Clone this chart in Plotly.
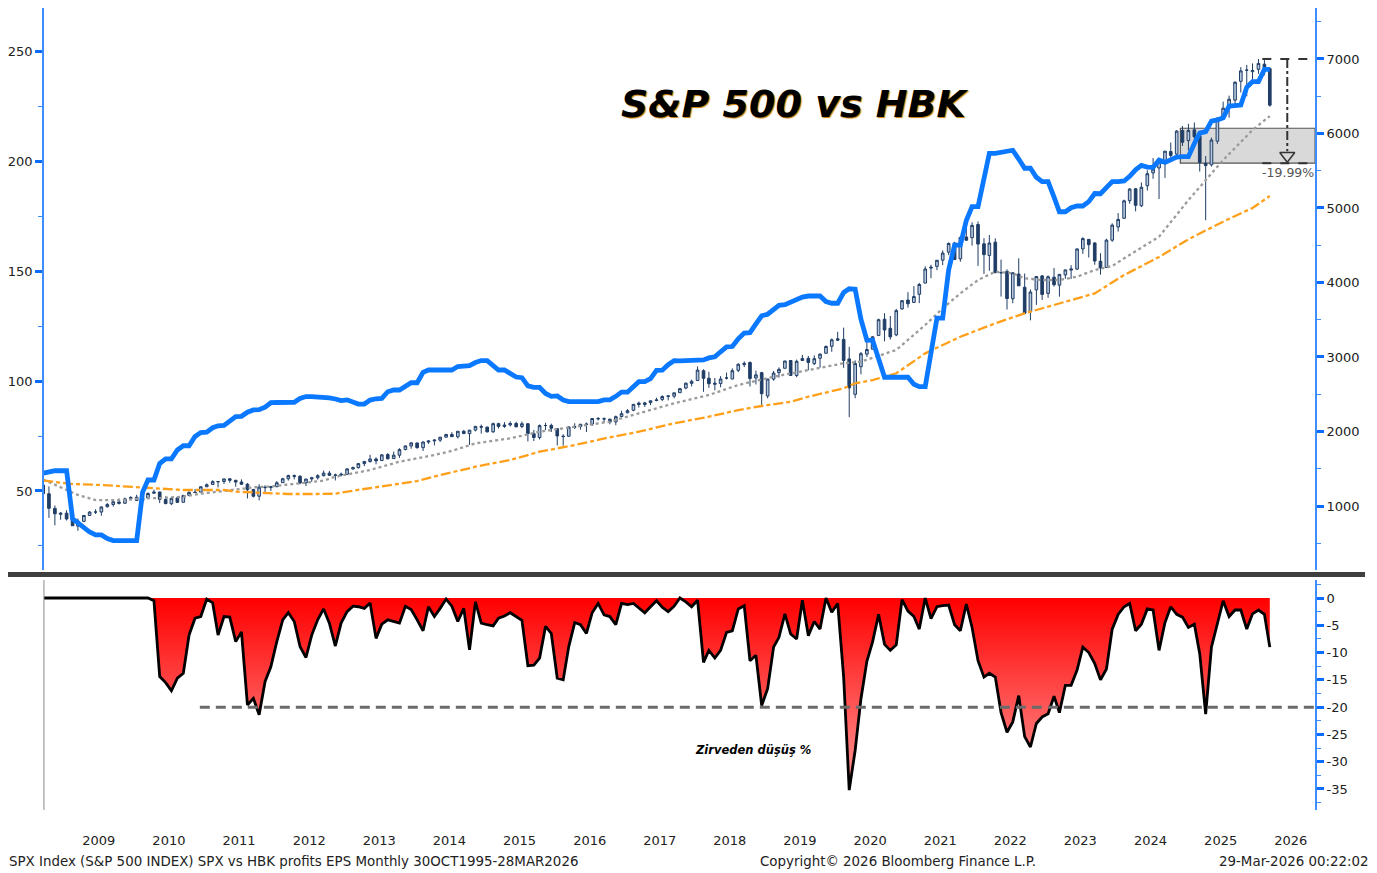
import pandas as pd
import plotly.graph_objects as go

# monthly bars, Sep 2008 .. Mar 2026
months = pd.date_range("2008-09-01", "2026-03-01", freq="MS") + pd.Timedelta(days=14)

spx_open = [
    1282, 1164, 968, 888,
    903, 823, 730, 794, 873, 919, 919, 990, 1020, 1054, 1037, 1099,
    1117, 1074, 1106, 1171, 1188, 1088, 1031, 1108, 1050, 1143, 1185, 1186,
    1258, 1289, 1329, 1329, 1365, 1346, 1322, 1292, 1220, 1131, 1252, 1247,
    1258, 1313, 1366, 1408, 1398, 1310, 1363, 1379, 1407, 1441, 1412, 1416,
    1426, 1498, 1515, 1569, 1597, 1631, 1610, 1690, 1636, 1682, 1759, 1806,
    1846, 1783, 1858, 1874, 1884, 1924, 1960, 1929, 2004, 1971, 2019, 2066,
    2059, 1996, 2105, 2068, 2088, 2108, 2067, 2104, 1970, 1919, 2081, 2082,
    2038, 1937, 1937, 2057, 2067, 2094, 2099, 2174, 2171, 2165, 2129, 2201,
    2251, 2285, 2381, 2363, 2388, 2415, 2431, 2478, 2474, 2521, 2583, 2646,
    2684, 2816, 2715, 2633, 2643, 2718, 2705, 2821, 2897, 2926, 2718, 2790,
    2476, 2703, 2790, 2848, 2953, 2751, 2953, 2981, 2910, 2983, 3050, 3143,
    3244, 3236, 2974, 2499, 2869, 3038, 3105, 3289, 3507, 3385, 3296, 3645,
    3764, 3732, 3842, 3992, 4193, 4216, 4300, 4407, 4529, 4317, 4610, 4602,
    4778, 4519, 4363, 4541, 4130, 4149, 3782, 4113, 3936, 3609, 3901, 4088,
    3853, 4071, 3964, 4102, 4166, 4180, 4451, 4578, 4530, 4285, 4202, 4568,
    4745, 4862, 5098, 5258, 5030, 5298, 5471, 5537, 5624, 5757, 5723, 6040,
    5904, 6049, 5969, 5597, 5580, 5897, 6219, 6341, 6447, 6700, 6850, 6830,
    6860, 6930, 6870,
]
spx_high = [
    1303, 1264, 1007, 918,
    944, 876, 832, 878, 930, 957, 996, 1039, 1080, 1101, 1113, 1130,
    1151, 1112, 1181, 1220, 1190, 1131, 1120, 1129, 1151, 1197, 1227, 1263,
    1302, 1345, 1333, 1364, 1371, 1346, 1357, 1308, 1230, 1292, 1278, 1269,
    1334, 1378, 1420, 1422, 1415, 1363, 1392, 1427, 1475, 1471, 1434, 1448,
    1510, 1530, 1570, 1598, 1687, 1654, 1698, 1710, 1730, 1775, 1814, 1850,
    1850, 1867, 1884, 1897, 1925, 1968, 1991, 2005, 2019, 2019, 2076, 2093,
    2064, 2119, 2117, 2126, 2135, 2130, 2133, 2113, 2021, 2094, 2117, 2105,
    2038, 1963, 2073, 2111, 2103, 2121, 2178, 2194, 2188, 2170, 2214, 2278,
    2301, 2367, 2401, 2398, 2418, 2454, 2484, 2491, 2520, 2582, 2657, 2695,
    2873, 2835, 2801, 2718, 2743, 2791, 2848, 2916, 2941, 2940, 2816, 2800,
    2708, 2813, 2860, 2950, 2955, 2965, 3028, 3014, 3022, 3050, 3155, 3248,
    3338, 3394, 3136, 2954, 3068, 3233, 3280, 3515, 3588, 3550, 3646, 3760,
    3870, 3951, 3995, 4218, 4238, 4302, 4430, 4538, 4546, 4608, 4744, 4808,
    4819, 4595, 4637, 4593, 4307, 4177, 4140, 4325, 4120, 3905, 4080, 4101,
    4095, 4195, 4111, 4170, 4232, 4458, 4607, 4584, 4541, 4393, 4587, 4794,
    4932, 5111, 5265, 5264, 5342, 5506, 5670, 5651, 5768, 5879, 6044, 6100,
    6129, 6147, 5987, 5696, 5944, 6216, 6427, 6508, 6700, 6890, 6920, 6940,
    7000, 6990, 6890,
]
spx_low = [
    1133, 840, 741, 815,
    805, 735, 667, 783, 866, 892, 869, 978, 992, 1020, 1030, 1086,
    1071, 1045, 1106, 1170, 1040, 1029, 1011, 1040, 1048, 1131, 1173, 1186,
    1257, 1289, 1249, 1295, 1312, 1259, 1282, 1101, 1114, 1075, 1159, 1202,
    1258, 1312, 1341, 1357, 1292, 1267, 1325, 1355, 1397, 1403, 1343, 1398,
    1426, 1485, 1502, 1536, 1582, 1560, 1605, 1627, 1633, 1646, 1746, 1768,
    1770, 1738, 1834, 1814, 1860, 1915, 1930, 1905, 1965, 1821, 2001, 1972,
    1988, 1981, 2040, 2048, 2068, 2056, 2044, 1867, 1872, 1893, 2020, 1993,
    1812, 1810, 1932, 2034, 2025, 1992, 2074, 2147, 2120, 2097, 2084, 2188,
    2245, 2272, 2322, 2329, 2353, 2406, 2407, 2417, 2446, 2520, 2566, 2605,
    2683, 2533, 2585, 2553, 2594, 2698, 2699, 2796, 2864, 2604, 2631, 2347,
    2444, 2682, 2722, 2848, 2750, 2729, 2952, 2822, 2892, 2856, 3050, 3070,
    3214, 2855, 2192, 2447, 2767, 2999, 3101, 3284, 3210, 3234, 3280, 3634,
    3663, 3725, 3723, 3990, 4057, 4165, 4233, 4367, 4306, 4279, 4560, 4495,
    4223, 4115, 4157, 4125, 3811, 3637, 3721, 3955, 3585, 3492, 3699, 3765,
    3794, 3944, 3809, 4049, 4048, 4167, 4385, 4335, 4238, 4104, 4197, 4546,
    4683, 4853, 5057, 4954, 5012, 5234, 5391, 5120, 5403, 5674, 5696, 5832,
    5773, 5837, 5489, 4835, 5556, 5861, 6202, 6212, 6360, 6550, 6500, 6720,
    6800, 6780, 6360,
]
spx_close = [
    1166, 969, 896, 903,
    826, 735, 798, 873, 919, 919, 987, 1021, 1057, 1036, 1096, 1115,
    1074, 1104, 1169, 1187, 1089, 1031, 1102, 1049, 1141, 1183, 1181, 1258,
    1286, 1327, 1326, 1364, 1345, 1321, 1292, 1219, 1131, 1253, 1247, 1258,
    1312, 1366, 1408, 1398, 1310, 1362, 1379, 1407, 1441, 1412, 1416, 1426,
    1498, 1515, 1569, 1598, 1631, 1606, 1686, 1633, 1682, 1757, 1806, 1848,
    1783, 1859, 1872, 1884, 1924, 1960, 1931, 2003, 1972, 2018, 2068, 2059,
    1995, 2105, 2068, 2086, 2107, 2063, 2104, 1972, 1920, 2079, 2080, 2044,
    1940, 1932, 2060, 2065, 2097, 2099, 2174, 2171, 2168, 2126, 2199, 2239,
    2279, 2364, 2363, 2384, 2412, 2423, 2470, 2472, 2519, 2575, 2648, 2674,
    2824, 2714, 2641, 2648, 2705, 2718, 2816, 2902, 2914, 2712, 2760, 2507,
    2704, 2784, 2834, 2946, 2752, 2942, 2980, 2926, 2977, 3038, 3141, 3231,
    3226, 2954, 2585, 2912, 3044, 3100, 3271, 3500, 3363, 3270, 3622, 3756,
    3714, 3811, 3973, 4181, 4204, 4298, 4395, 4523, 4308, 4605, 4567, 4766,
    4516, 4374, 4530, 4132, 4132, 3785, 4130, 3955, 3586, 3872, 4080, 3840,
    4077, 3970, 4109, 4169, 4180, 4450, 4589, 4508, 4288, 4194, 4568, 4770,
    4846, 5096, 5254, 5036, 5278, 5460, 5522, 5648, 5762, 5705, 6032, 5882,
    6041, 5955, 5612, 5569, 5912, 6205, 6339, 6460, 6688, 6840, 6849, 6845,
    6940, 6880, 6380,
]

# HBK profits EPS (left axis), one value per month
hbk_eps = [
    58.1, 58.8, 59.2, 59.2,
    59.2, 37.4, 35.5, 33.3, 31.3, 30.0, 30.0, 28.3, 27.4, 27.4, 27.4, 27.4,
    27.4, 49.5, 55.0, 55.0, 62.5, 64.6, 64.6, 68.7, 70.6, 70.6, 74.8, 76.6,
    76.8, 78.8, 79.7, 79.9, 82.1, 83.9, 84.0, 85.9, 86.9, 87.0, 88.2, 90.2,
    90.3, 90.3, 90.4, 90.4, 92.1, 93.0, 93.0, 92.9, 92.6, 92.4, 91.9, 91.2,
    91.5, 90.8, 89.6, 89.6, 91.4, 92.0, 92.2, 95.2, 96.0, 96.0, 98.0, 99.3,
    99.3, 104.0, 105.1, 105.1, 105.1, 105.1, 105.1, 106.7, 107.1, 107.1, 108.5, 109.4,
    109.4, 106.9, 105.1, 105.1, 103.2, 101.9, 101.6, 97.9, 97.2, 97.2, 94.4, 93.1,
    93.3, 91.4, 90.7, 90.7, 90.7, 90.7, 90.7, 90.7, 91.5, 91.5, 93.1, 95.0,
    95.0, 97.3, 99.8, 99.8, 101.2, 104.9, 105.0, 107.5, 109.4, 109.3, 109.3, 109.2,
    109.2, 109.7, 110.6, 111.1, 113.4, 115.6, 115.8, 119.3, 121.9, 122.1, 126.1, 129.8,
    130.5, 132.6, 134.6, 134.9, 136.1, 137.6, 138.3, 138.8, 138.8, 138.8, 136.3, 135.5,
    135.5, 140.4, 142.1, 141.9, 128.3, 118.7, 118.6, 109.9, 101.8, 101.8, 101.8, 101.8,
    101.8, 98.6, 97.5, 97.5, 114.5, 128.7, 128.7, 150.7, 162.0, 162.0, 173.2, 179.5,
    179.5, 193.1, 203.8, 203.8, 204.3, 204.9, 205.2, 201.2, 197.0, 197.0, 192.9, 190.9,
    190.9, 183.9, 177.2, 177.2, 179.0, 179.8, 179.8, 181.8, 185.5, 185.4, 188.0, 190.9,
    190.9, 191.2, 193.3, 196.3, 198.3, 197.5, 197.4, 200.7, 199.7, 200.8, 202.1, 202.3,
    202.3, 208.3, 213.0, 213.7, 218.5, 219.0, 220.0, 225.3, 225.8, 225.8, 233.9, 236.5,
    236.5, 242.0, 242.0,
]

# moving averages (month index into `months`, value)
ma_short_idx = [0, 3, 6, 9, 12, 14, 17, 20, 24, 27, 30, 33, 36, 39, 41, 44, 48, 50, 56, 61,
                67, 70, 74, 80, 85, 91, 97, 102, 108, 114, 119, 125, 131, 137, 140, 146, 151,
                154, 157, 160, 163, 166, 168, 171, 174, 177, 180, 183, 185, 191, 196, 202, 207, 210]
ma_short = [1355, 1251, 1148, 1080, 1075, 1080, 1103, 1107, 1125, 1165, 1192, 1224, 1251, 1262,
            1282, 1305, 1340, 1393, 1483, 1595, 1684, 1740, 1841, 1908, 1997, 2064, 2131, 2244,
            2378, 2490, 2624, 2735, 2825, 2915, 2937, 3094, 3429, 3653, 3854, 4033, 4145, 4123,
            4056, 4033, 4033, 4078, 4167, 4221, 4324, 4614, 5106, 5643, 6046, 6234]
ma_long_idx = [0, 5, 10, 16, 24, 31, 33, 37, 42, 47, 50, 53, 58, 64, 68, 74, 80, 85, 91, 97,
               102, 108, 114, 119, 123, 128, 131, 137, 139, 142, 146, 151, 157, 163, 168, 174,
               180, 185, 191, 196, 202, 207, 210]
ma_long = [1342, 1295, 1282, 1251, 1215, 1215, 1192, 1178, 1161, 1161, 1165, 1206, 1268, 1335,
           1415, 1527, 1617, 1729, 1818, 1922, 1997, 2110, 2198, 2288, 2342, 2400, 2467, 2579,
           2647, 2691, 2781, 3049, 3272, 3452, 3586, 3720, 3854, 4100, 4342, 4580, 4816, 5000, 5160]

# drawdown from peak, %
drawdown = [
    0, 0, 0, 0,
    0, 0, 0, 0, 0, 0, 0, 0, 0, 0, 0, 0,
    0, 0, 0, -0.5, -14.4, -15.5, -17.0, -14.7, -13.8, -6.8, -3.7, -3.4,
    -0.2, -0.9, -6.8, -3.4, -3.5, -8.0, -6.2, -19.6, -18.4, -21.4, -15.3, -12.6,
    -8.0, -4.0, -2.7, -4.3, -8.9, -10.9, -6.8, -4.0, -2.0, -4.6, -8.8, -4.6,
    -2.5, -1.5, -1.6, -1.9, -0.9, -7.4, -4.8, -4.0, -4.3, -4.6, -1.5, -2.1,
    -4.0, -6.0, -1.6, -3.4, -1.9, -0.2, -1.5, -4.3, -1.9, -9.5, -0.7, -4.6,
    -4.9, -5.1, -3.7, -3.3, -2.7, -3.4, -4.1, -12.4, -12.3, -11.0, -5.2, -6.5,
    -14.7, -15.0, -8.9, -4.5, -4.9, -6.5, -2.7, -1.0, -3.1, -3.4, -4.9, -1.0,
    -1.2, -1.0, -1.8, -2.7, -1.6, -0.5, -1.7, -2.5, -1.5, 0, -0.7, -1.6,
    -0.4, -11.8, -9.6, -11.0, -9.6, -6.3, -6.0, -2.0, -1.4, -11.5, -10.5, -19.7,
    -16.6, -9.0, -7.2, -2.9, -6.6, -7.5, -0.4, -6.9, -4.3, -5.7, 0, -2.6,
    -1.0, -14.5, -35.2, -27.9, -18.5, -11.6, -8.0, -3.0, -8.5, -9.6, -8.6, -0.3,
    -2.4, -3.4, -5.7, 0, -3.8, -1.6, -1.4, -1.3, -4.9, -6.0, -1.1, -5.4,
    -11.5, -14.5, -13.8, -14.5, -21.0, -24.6, -22.7, -17.9, -25.4, -27.3, -23.0, -21.8,
    -21.2, -18.0, -21.0, -16.0, -16.0, -13.2, -9.0, -10.0, -12.0, -15.0, -13.0, -5.7,
    -3.0, -1.6, -1.0, -6.0, -4.8, -2.0, -2.2, -9.6, -4.5, -1.6, -3.0, -3.5,
    -5.4, -4.8, -10.2, -21.3, -9.0, -4.8, -0.5, -3.4, -2.2, -2.2, -5.7, -2.9,
    -2.2, -3.0, -9.0,
]

years = list(range(2009, 2027))
dd_ticks = [0, -5, -10, -15, -20, -25, -30, -35]

W, H = 1377, 873
OFF = 8  # page margin the browser puts round the plot
NAVY = "#1f3d66"
AXIS = "#3d8dff"
TICK = "#0a6cff"
tf = dict(family="DejaVu Sans", size=13, color="#222222")
foot = dict(family="DejaVu Sans", size=13.4, color="#222222")
xr = ["2008-09-19", "2026-11-06"]


def px(p):
    return (p - OFF) / W


def py(p):
    return min(1.0, 1 - (p - OFF) / H)


xdom = [px(42), px(1315)]

fig = go.Figure()

fig.add_trace(go.Candlestick(
    x=months, open=spx_open, high=spx_high, low=spx_low, close=spx_close,
    xaxis="x", yaxis="y", whiskerwidth=0, showlegend=False, hoverinfo="skip",
    increasing=dict(line=dict(color=NAVY, width=1), fillcolor="#b9c9dd"),
    decreasing=dict(line=dict(color=NAVY, width=1), fillcolor=NAVY),
))
fig.add_trace(go.Scatter(
    x=[months[i] for i in ma_short_idx], y=ma_short, xaxis="x", yaxis="y", mode="lines",
    line=dict(color="#9b9b9b", width=2.3, dash="dot"), showlegend=False, hoverinfo="skip"))
fig.add_trace(go.Scatter(
    x=[months[i] for i in ma_long_idx], y=ma_long, xaxis="x", yaxis="y", mode="lines",
    line=dict(color="#ff9f1a", width=2.3, dash="10px,3px,4px,3px"), showlegend=False, hoverinfo="skip"))
# arrow head of the -19.99% measure
fig.add_trace(go.Scatter(
    x=["2026-06-14"], y=[5700], xaxis="x", yaxis="y", mode="markers",
    marker=dict(symbol="triangle-down-open", size=13, color="#333333", line=dict(width=1.5)),
    showlegend=False, hoverinfo="skip", cliponaxis=False))
fig.add_trace(go.Scatter(
    x=months, y=hbk_eps, xaxis="x", yaxis="y2", mode="lines",
    line=dict(color="#0a78ff", width=4.8), showlegend=False, hoverinfo="skip"))

fig.add_trace(go.Scatter(
    x=months, y=drawdown, xaxis="x2", yaxis="y3", mode="lines", fill="tozeroy",
    fillgradient=dict(type="vertical", colorscale=[[0, "#ff9c9c"], [1, "#ff0000"]], start=-36, stop=0),
    line=dict(color="black", width=2.8), showlegend=False, hoverinfo="skip"))

shapes = [
    # grey band
    dict(type="rect", xref="x", yref="y", x0="2024-12-04", x1="2026-11-06", y0=5601, y1=6070,
         fillcolor="#d9d9d9", line=dict(color="#555555", width=1.2), layer="below"),
    dict(type="line", xref="x", yref="y", x0="2026-02-04", x1="2026-11-06", y0=7000, y1=7000,
         line=dict(color="#333333", width=2, dash="dash")),
    dict(type="line", xref="x", yref="y", x0="2026-02-04", x1="2026-11-06", y0=5601, y1=5601,
         line=dict(color="#333333", width=2, dash="dash")),
    dict(type="line", xref="x", yref="y", x0="2026-06-14", x1="2026-06-14", y0=7000, y1=5760,
         line=dict(color="#333333", width=2, dash="dashdot")),
    # -20% threshold
    dict(type="line", xref="x2", yref="y3", x0="2010-12-10", x1="2026-11-06", y0=-20, y1=-20,
         line=dict(color="#6b6b6b", width=3, dash="10px,6px")),
    # panel divider
    dict(type="rect", xref="paper", yref="paper", x0=px(5), x1=px(1365), y0=py(577), y1=py(572),
         fillcolor="#3f3f3f", line=dict(width=0)),
    dict(type="line", xref="paper", yref="paper", x0=px(42), x1=px(42), y0=py(810), y1=py(580),
         line=dict(color="#8a8a8a", width=1)),
]

annotations = [
    dict(text="S&P 500 vs HBK", xref="paper", yref="paper", x=px(794), y=py(104),
         showarrow=False, xanchor="center", yanchor="middle",
         font=dict(family="DejaVu Sans", size=38, color="black", weight="bold", style="italic",
                   shadow="1px 1px 1px #c87a00")),
    dict(text="-19.99%", xref="x", yref="y", x="2026-06-20", y=5470, showarrow=False,
         xanchor="center", yanchor="middle",
         font=dict(family="DejaVu Sans", size=12.5, color="#555555")),
    dict(text="Zirveden düşüş %", xref="paper", yref="paper", x=px(752), y=py(750),
         showarrow=False, xanchor="center", yanchor="middle",
         font=dict(family="DejaVu Sans", size=11.5, color="black", weight="bold", style="italic")),
    dict(text="SPX Index (S&P 500 INDEX) SPX vs HBK profits EPS Monthly 30OCT1995-28MAR2026",
         xref="paper", yref="paper", x=px(5), y=py(861), xanchor="left", yanchor="middle",
         showarrow=False, font=foot),
    dict(text="Copyright© 2026 Bloomberg Finance L.P.", xref="paper", yref="paper",
         x=px(897), y=py(861), xanchor="center", yanchor="middle", showarrow=False, font=foot),
    dict(text="29-Mar-2026 00:22:02", xref="paper", yref="paper", x=px(1371), y=py(861),
         xanchor="right", yanchor="middle", showarrow=False, font=foot),
]

yax_common = dict(showgrid=False, zeroline=False, showline=True, linecolor=AXIS, linewidth=1.5,
                  ticks="outside", ticklen=7, tickwidth=2.5, tickcolor=TICK, tickfont=tf)

fig.update_layout(
    width=W, height=H, margin=dict(l=0, r=0, t=0, b=0),
    paper_bgcolor="white", plot_bgcolor="white", showlegend=False,
    xaxis=dict(domain=xdom, range=xr, anchor="y", showticklabels=False, showgrid=False,
               zeroline=False, showline=False, ticks="", rangeslider=dict(visible=False)),
    yaxis=dict(domain=[py(570), py(8)], range=[141, 7684], side="right", anchor="x",
               dtick=1000, tick0=0,
               minor=dict(dtick=500, tick0=0, ticks="outside", ticklen=4, tickwidth=1, tickcolor=AXIS),
               **yax_common),
    yaxis2=dict(overlaying="y", side="left", anchor="x", range=[14, 270.0], dtick=50, tick0=0,
                minor=dict(dtick=25, tick0=0, ticks="outside", ticklen=4, tickwidth=1, tickcolor=AXIS),
                **yax_common),
    xaxis2=dict(domain=xdom, anchor="y3", matches="x", showgrid=False, zeroline=False,
                showline=False, ticks="", tickvals=[f"{y}-07-02" for y in years],
                ticktext=[str(y) for y in years], ticklabelstandoff=21, tickfont=tf),
    yaxis3=dict(domain=[py(810), py(580)], range=[-38.85, 3.3], side="right", anchor="x2",
                tickvals=dd_ticks, ticktext=[str(v) for v in dd_ticks],
                minor=dict(dtick=2.5, tick0=0, ticks="outside", ticklen=4, tickwidth=1, tickcolor=AXIS),
                **yax_common),
    shapes=shapes,
    annotations=annotations,
)

fig.write_html("out.html")
